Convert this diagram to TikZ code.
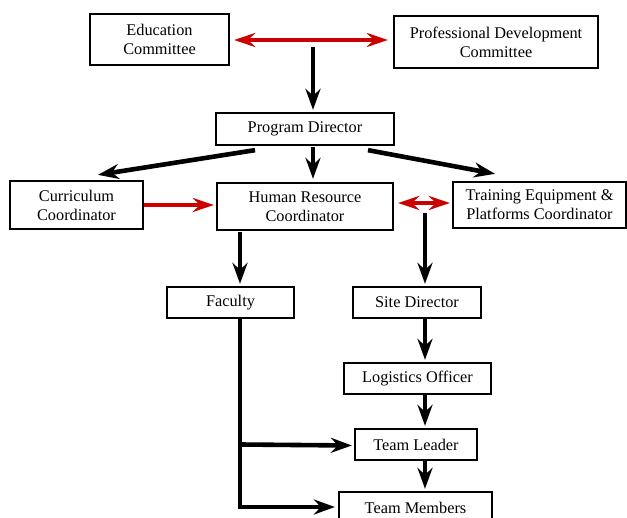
\documentclass[tikz,border=0pt]{standalone}
\usepackage{fontspec}
\setmainfont{Liberation Serif}
\usetikzlibrary{arrows.meta,calc}
\definecolor{linkred}{RGB}{204,0,0}
\begin{document}
\begin{tikzpicture}[x=1pt,y=-1pt,
  box/.style={draw, line width=2.3pt, inner sep=0pt, align=center,
    font=\fontsize{16.3}{19}\selectfont},
  flow/.style={line width=4.6pt, -{Stealth[length=21pt,width=15pt,inset=7pt]}},
  link/.style={line width=4.6pt, draw=linkred,
    {Stealth[length=21pt,width=14pt,inset=7pt]}-{Stealth[length=21pt,width=14pt,inset=7pt]}},
  linkone/.style={line width=4.6pt, draw=linkred,
    -{Stealth[length=21pt,width=14pt,inset=7pt]}},
]
\useasboundingbox (0,0) rectangle (627,518);
\clip (0,0) rectangle (627,518);

% committees
\node[box, minimum width=139pt, minimum height=51pt] (edu) at (159.5,39.5) {Education\\Committee};
\node[box, minimum width=204pt, minimum height=52pt] (pdc) at (496,42) {Professional Development\\Committee};

% direction
\node[box, minimum width=178pt, minimum height=32pt] (pd) at (305,129) {Program Director};

% coordinators
\node[box, minimum width=133pt, minimum height=48pt] (cc) at (76.5,205) {Curriculum\\Coordinator};
\node[box, minimum width=176pt, minimum height=47pt] (hr) at (305,206.5) {Human Resource\\Coordinator};
\node[box, minimum width=173pt, minimum height=46pt] (tep) at (539.5,205) {Training Equipment \&\\Platforms Coordinator};

% lower levels
\node[box, minimum width=127pt, minimum height=31pt] (fac) at (230.5,302.5) {Faculty};
\node[box, minimum width=128pt, minimum height=31pt] (sd) at (417,302.5) {Site Director};
\node[box, minimum width=147pt, minimum height=31pt] (lo) at (417.5,378.5) {Logistics Officer};
\node[box, minimum width=122pt, minimum height=31pt] (tl) at (416,444.5) {Team Leader};
\node[box, minimum width=153pt, minimum height=32pt] (tm) at (415.5,508) {Team Members};

% committee links
\draw[link] ($(edu.east)+(4,0.5)$) -- ($(edu.east -| pdc.west)+(-5,0.5)$);
\coordinate (fork) at (313,47);
\draw[flow] (fork) -- ($(fork |- pd.north)+(0,-2)$);

% program director to coordinators
\draw[flow] ($(pd.south)+(-50,4)$) -- ($(cc.north)+(21.5,-5)$);
\draw[flow] ($(pd.south)+(8,1)$) -- ($(hr.north)+(8,-3)$);
\draw[flow] ($(pd.south)+(63,4)$) -- ($(tep.north)+(-44.5,-7)$);

% coordinator links
\draw[linkone] (cc.east) -- ($(cc.east -| hr.west)+(-2,0)$);
\draw[link] ($(hr.east)+(4,-3.5)$) -- ($(hr.east -| tep.west)+(-2,-3.5)$);

% human resource branches
\draw[flow] ($(hr.south)+(-65,1)$) -- ($(fac.north)+(9.5,-2)$);
\coordinate (sdfeed) at (425,213);
\draw[flow] (sdfeed) -- ($(sdfeed |- sd.north)+(0,-2)$);

% site chain
\draw[flow] ($(sd.south)+(8,0)$) -- ($(lo.north)+(7.5,-2)$);
\draw[flow] ($(lo.south)+(7.5,0)$) -- ($(tl.north)+(9,-2)$);
\draw[flow] ($(tl.south)+(9,0)$) -- ($(tm.north)+(9.5,-2)$);

% faculty trunk
\coordinate (trunk) at ($(fac.south)+(9.5,0)$);
\draw[flow] (trunk) |- ($(tm.west)+(-3,-1)$);
\draw[flow] (trunk |- tl.west) -- ($(tl.west)+(-2,1)$);
\end{tikzpicture}
\end{document}
